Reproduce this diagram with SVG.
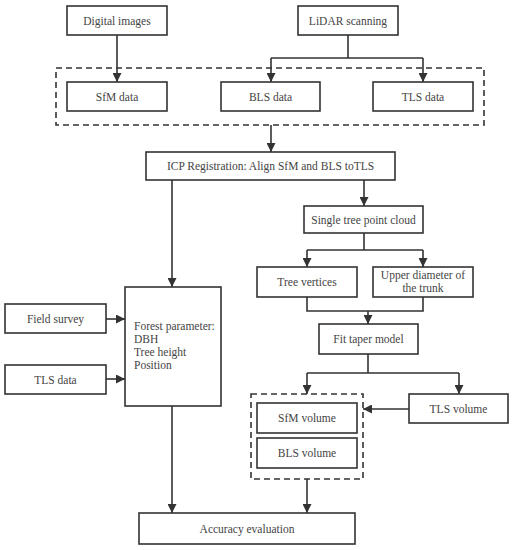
<svg xmlns="http://www.w3.org/2000/svg" width="514" height="550" viewBox="0 0 514 550">
<defs>
<marker id="ah" viewBox="0 0 10 10" refX="10" refY="5" markerWidth="9" markerHeight="9" markerUnits="userSpaceOnUse" orient="auto">
<path d="M0,0 L10,5 L0,10 z" fill="#333"/>
</marker>
<style>
.n rect{fill:#fff;stroke:#333;stroke-width:1.6}
.d{fill:none;stroke:#333;stroke-width:1.6;stroke-dasharray:6,4}
text{font-family:"Liberation Serif","Times New Roman",serif;font-size:11.5px;fill:#444;text-anchor:middle}
.l{text-anchor:start}
#conn path{fill:none;stroke:#333;stroke-width:1.6}
.a{marker-end:url(#ah)}
</style>
</defs>
<rect width="514" height="550" fill="#fff"/>
<rect class="d" x="56" y="68" width="428" height="57"/>
<rect class="d" x="251" y="394" width="112" height="85"/>
<g id="n1" class="n"><rect x="67" y="6" width="100" height="29"/><text x="117" y="24.5">Digital images</text></g>
<g id="n2" class="n"><rect x="298" y="6" width="100" height="29"/><text x="348" y="24.5">LiDAR scanning</text></g>
<g id="n3" class="n"><rect x="67" y="82" width="100" height="29"/><text x="117" y="100.5">SfM data</text></g>
<g id="n4" class="n"><rect x="221" y="82" width="99" height="29"/><text x="270.5" y="100.5">BLS data</text></g>
<g id="n5" class="n"><rect x="373" y="82" width="100" height="29"/><text x="423" y="100.5">TLS data</text></g>
<g id="n6" class="n"><rect x="146" y="152" width="249" height="28"/><text x="270.5" y="170">ICP Registration: Align SfM and BLS toTLS</text></g>
<g id="n7" class="n"><rect x="304" y="206" width="119" height="27"/><text x="363.5" y="223.5">Single tree point cloud</text></g>
<g id="n8" class="n"><rect x="257" y="267" width="100" height="30"/><text x="307" y="286">Tree vertices</text></g>
<g id="n9" class="n"><rect x="373" y="267" width="100" height="30"/><text x="423" y="279">Upper diameter of</text><text x="423" y="292">the trunk</text></g>
<g id="n10" class="n"><rect x="125" y="287" width="96" height="119"/><text class="l" x="134" y="330">Forest parameter:</text><text class="l" x="134" y="343">DBH</text><text class="l" x="134" y="356">Tree height</text><text class="l" x="134" y="369">Position</text></g>
<g id="n11" class="n"><rect x="5" y="304" width="101" height="29"/><text x="55.5" y="322.5">Field survey</text></g>
<g id="n12" class="n"><rect x="5" y="365" width="101" height="29"/><text x="55.5" y="383.5">TLS data</text></g>
<g id="n13" class="n"><rect x="319" y="324" width="99" height="30"/><text x="368.5" y="343">Fit taper model</text></g>
<g id="n14" class="n"><rect x="409" y="394" width="99" height="29"/><text x="458.5" y="412.5">TLS volume</text></g>
<g id="n15" class="n"><rect x="257" y="403" width="100" height="30"/><text x="307" y="422">SfM volume</text></g>
<g id="n16" class="n"><rect x="257" y="438" width="100" height="30"/><text x="307" y="457">BLS volume</text></g>
<g id="n17" class="n"><rect x="139" y="513" width="216" height="31"/><text x="247" y="532.5">Accuracy evaluation</text></g>
<g id="conn">
<path class="a" d="M117,35 V82"/>
<path d="M348,35 V58 M271,58 H423"/>
<path class="a" d="M271,58 V82"/>
<path class="a" d="M423,58 V82"/>
<path class="a" d="M271,125 V152"/>
<path class="a" d="M172,180 V287"/>
<path class="a" d="M364,180 V206"/>
<path d="M364,233 V250 M307,250 H423"/>
<path class="a" d="M307,250 V267"/>
<path class="a" d="M423,250 V267"/>
<path d="M307,297 V311 H423 V297"/>
<path class="a" d="M368,311 V324"/>
<path class="a" d="M106,319 H125"/>
<path class="a" d="M106,379 H125"/>
<path d="M368,354 V373 M307,373 H459"/>
<path class="a" d="M307,373 V394"/>
<path class="a" d="M459,373 V394"/>
<path class="a" d="M409,409 H363"/>
<path class="a" d="M172,406 V513"/>
<path class="a" d="M307,479 V513"/>
</g>
</svg>
